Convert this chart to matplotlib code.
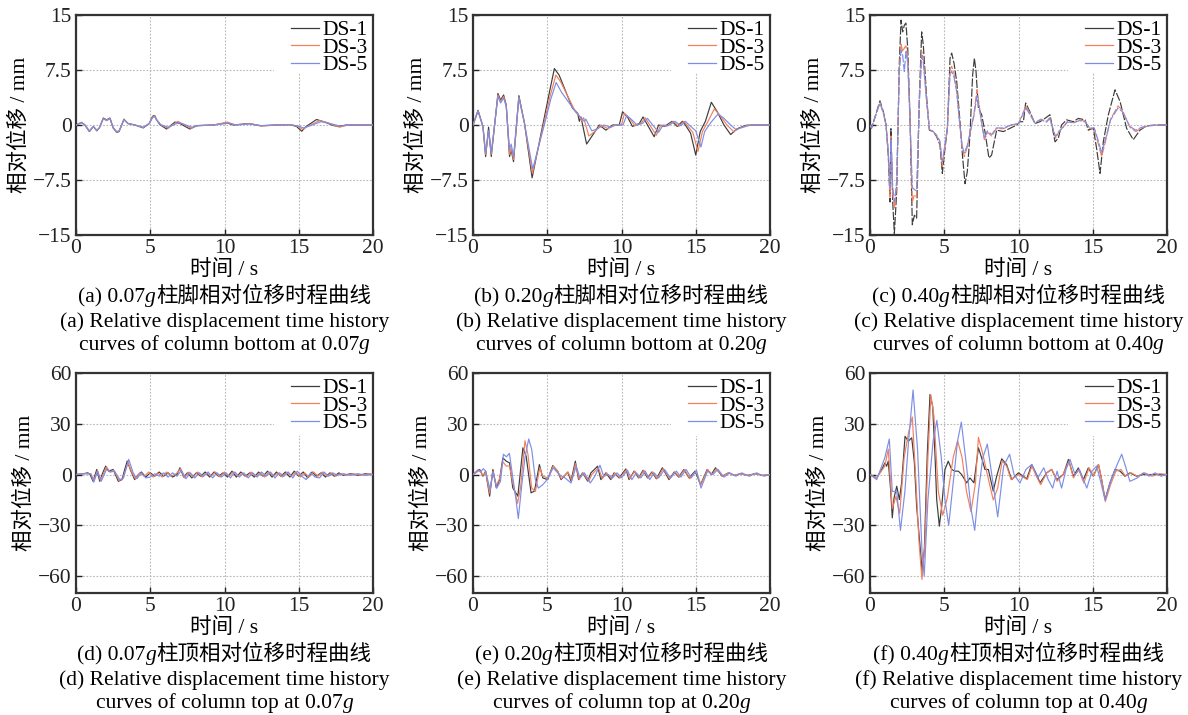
import matplotlib

matplotlib.use("Agg")
from matplotlib import pyplot as plt
from matplotlib.offsetbox import AnnotationBbox, HPacker, TextArea
from matplotlib.patches import Rectangle

FONTS = ["Liberation Serif", "Noto Sans CJK SC"]
plt.rcParams["font.family"] = FONTS
plt.rcParams["axes.unicode_minus"] = True

SERIES = ["DS-1", "DS-3", "DS-5"]
COLORS = ["#3c3c3c", "#f2805e", "#7d8ee6"]

# (t [s], displacement [mm])
A_DS1 = [(0, 0), (0.38, 0.36), (0.6, 0), (0.9, -0.9), (1.17, -0.2), (1.4, -0.8), (1.57, -0.4),
         (1.84, 0.95), (2.06, 0.7), (2.29, 0.95), (2.5, -0.4), (2.74, -1.0), (2.9, -0.9),
         (3.23, 0.8), (3.5, 0.2), (3.97, 0), (4.53, -0.4), (4.93, 0.2), (5.16, 1.2), (5.3, 1.3),
         (5.43, 0.7), (5.65, 0.05), (6.1, -0.55), (6.66, 0.4), (7.0, 0.2), (7.67, -0.55),
         (8.1, -0.1), (9.24, 0), (10.13, 0.3), (10.6, 0), (11.6, 0.2), (12.4, -0.1), (13.5, 0),
         (14.4, 0.05), (14.85, -0.2), (15.2, -0.85), (15.5, -0.2), (16.2, 0.75), (16.75, 0.4),
         (17.3, -0.05), (17.65, -0.2), (18.2, 0), (20, 0)]
A_DS3 = [(0, 0), (0.38, 0.35), (0.6, 0), (0.9, -0.85), (1.17, -0.2), (1.4, -0.75), (1.57, -0.4),
         (1.84, 0.9), (2.06, 0.65), (2.29, 0.9), (2.5, -0.4), (2.74, -0.95), (2.9, -0.85),
         (3.23, 0.75), (3.5, 0.2), (3.97, 0), (4.53, -0.35), (4.93, 0.2), (5.16, 1.1), (5.3, 1.25),
         (5.45, 0.7), (5.7, 0.05), (6.2, -0.45), (6.85, 0.5), (7.15, 0.2), (7.75, -0.45),
         (8.2, -0.1), (9.3, 0), (10.2, 0.4), (10.7, 0), (11.7, 0.2), (12.5, -0.15), (13.5, 0),
         (14.5, 0.05), (14.95, -0.2), (15.25, -0.6), (15.6, -0.2), (16.4, 0.6), (16.9, 0.35),
         (17.4, -0.05), (17.75, -0.3), (18.3, 0), (20, 0)]
A_DS5 = [(0, 0), (0.38, 0.3), (0.6, 0), (0.9, -0.8), (1.17, -0.2), (1.4, -0.7), (1.57, -0.4),
         (1.84, 0.85), (2.06, 0.6), (2.29, 0.85), (2.5, -0.35), (2.74, -0.9), (2.9, -0.8),
         (3.23, 0.7), (3.5, 0.2), (3.97, 0), (4.53, -0.3), (4.93, 0.2), (5.16, 1.0), (5.3, 1.15),
         (5.45, 0.6), (5.7, 0.05), (6.2, -0.3), (6.9, 0.3), (7.2, 0.15), (7.8, -0.3),
         (8.3, -0.05), (9.3, 0), (10.3, 0.25), (10.8, 0), (11.8, 0.15), (12.5, -0.1), (13.5, 0),
         (14.5, 0), (15.0, -0.15), (15.3, -0.4), (15.7, -0.15), (16.5, 0.45), (17.0, 0.25),
         (17.5, 0), (17.8, -0.15), (18.4, 0), (20, 0)]

B_DS1 = [(0, 0), (0.34, 2.0), (0.67, -0.2), (0.85, -4.3), (1.05, -0.3), (1.23, -4.3), (1.68, 4.3),
         (1.86, 3.4), (2.06, 4.1), (2.24, 2.7), (2.46, -4.3), (2.57, -3.4), (2.73, -5.0),
         (3.09, 4.0), (3.47, 0.2), (3.98, -7.2), (4.7, 0), (5.15, 4.5), (5.48, 7.7), (5.8, 6.8),
         (6.7, 2.3), (7.05, 1.6), (7.16, 0.5), (7.27, 1.1), (7.65, -2.6), (8.05, -1.4), (8.5, 0),
         (8.95, -0.7), (9.4, 0), (9.85, 0), (10.07, 1.8), (10.4, 1.1), (10.74, -0.2), (11.2, 0.2),
         (11.45, 1.1), (11.75, 0), (12.2, -1.6), (12.5, 0), (12.9, -0.2), (13.4, 0.5),
         (13.75, -0.2), (14.1, 0.5), (14.3, 0), (14.65, -1.1), (15.0, -4.1), (15.3, -0.9),
         (15.65, 0.5), (16.05, 3.1), (16.45, 1.8), (16.9, 0), (17.35, -1.3), (17.8, -0.5),
         (18.35, -0.05), (19.0, 0), (20, 0)]
B_DS3 = [(0, 0), (0.34, 1.9), (0.67, -0.2), (0.85, -4.0), (1.05, -0.8), (1.23, -4.0), (1.68, 4.1),
         (1.86, 3.2), (2.06, 3.9), (2.24, 2.6), (2.46, -4.0), (2.57, -3.2), (2.73, -4.7),
         (3.09, 3.8), (3.47, 0.2), (4.0, -6.6), (4.75, 0), (5.2, 4.0), (5.58, 6.8), (5.9, 5.9),
         (6.8, 2.2), (7.15, 1.3), (7.3, 0.6), (7.45, 1.0), (7.8, -1.5), (8.2, -0.9), (8.6, 0),
         (9.1, -0.5), (9.5, 0), (10.0, 0), (10.2, 1.6), (10.55, 0.9), (10.9, -0.1), (11.3, 0.2),
         (11.6, 1.0), (11.9, 0), (12.35, -1.4), (12.65, 0), (13.0, -0.2), (13.5, 0.5),
         (13.85, -0.2), (14.2, 0.5), (14.4, 0), (14.8, -1.0), (15.15, -3.6), (15.45, -0.9),
         (15.8, 0.4), (16.25, 2.2), (16.6, 1.4), (17.1, 0), (17.55, -0.9), (18.0, -0.4),
         (18.5, 0), (20, 0)]
B_DS5 = [(0, 0), (0.34, 1.9), (0.67, -0.2), (0.85, -3.8), (1.05, -0.8), (1.23, -3.8), (1.68, 3.9),
         (1.86, 3.0), (2.06, 3.7), (2.24, 2.5), (2.46, -3.4), (2.57, -2.6), (2.73, -4.3),
         (3.09, 3.7), (3.47, 0.2), (4.02, -6.0), (4.8, 0), (5.25, 3.6), (5.6, 5.8), (5.95, 4.5),
         (6.9, 1.8), (7.25, 1.0), (7.5, 0.5), (7.6, 0.8), (8.0, -0.8), (8.4, -0.5), (8.8, 0),
         (9.3, -0.3), (9.6, 0), (10.1, 0), (10.35, 1.3), (10.7, 0.7), (11.05, 0), (11.4, 0.2),
         (11.75, 0.9), (12.1, 0), (12.5, -1.0), (12.8, 0), (13.15, -0.1), (13.6, 0.5),
         (14.0, -0.1), (14.3, 0.5), (14.55, 0), (15.0, -0.8), (15.35, -3.0), (15.6, -0.9),
         (16.0, 0.3), (16.5, 1.5), (16.85, 1.0), (17.35, 0), (17.7, -0.6), (18.2, -0.3),
         (18.7, 0), (20, 0)]

C_DS1 = [(0, 0), (0.1, -0.45), (0.67, 3.3), (0.9, 1.8), (1.08, 0), (1.23, -4.1), (1.35, -10.5),
         (1.41, -0.5), (1.53, -10.5), (1.64, -14.8), (1.8, -9.0), (1.97, 8.2), (2.09, 14.3),
         (2.2, 12.7), (2.31, 13.6), (2.42, 13.9), (2.54, 10.5), (2.69, 1.4), (2.85, -13.6),
         (2.99, -12.3), (3.14, -12.7), (3.32, 3.6), (3.48, 12.7), (3.59, 10.9), (3.82, 3.6),
         (4.0, -0.7), (4.26, -0.9), (4.49, -1.6), (4.71, -2.7), (4.87, -6.6), (5.05, -3.2),
         (5.21, -0.45), (5.39, 9.1), (5.5, 9.8), (5.66, 8.4), (5.84, 5.9), (6.06, 0.45),
         (6.24, -4.5), (6.4, -8.0), (6.55, -6.4), (6.73, -1.4), (6.91, 6.8), (7.03, 9.1),
         (7.14, 7.3), (7.3, 2.3), (7.52, 1.4), (7.74, -0.9), (8.01, -4.5), (8.19, -4.1),
         (8.53, -0.7), (8.98, -0.9), (9.43, -0.45), (9.88, 0), (10.1, 0.45), (10.33, 0.45),
         (10.48, 3.0), (10.77, 1.8), (11.1, 0.2), (11.45, 0.45), (11.78, 0.9), (12.12, 1.4),
         (12.46, -2.3), (12.68, -1.8), (12.9, 0), (13.24, 0.7), (13.69, 0.45), (14.03, 0.9),
         (14.48, 0.7), (14.7, -0.7), (15.04, -0.45), (15.26, -3.2), (15.49, -6.6), (15.71, -2.3),
         (16.05, 1.4), (16.5, 4.8), (16.84, 3.2), (17.28, -0.45), (17.73, -2.0), (18.18, -0.7),
         (18.63, -0.1), (19.3, 0), (20, 0)]
C_DS3 = [(0, 0), (0.1, -0.4), (0.67, 3.1), (0.9, 1.7), (1.08, 0), (1.23, -3.8), (1.35, -9.8),
         (1.41, -1.5), (1.53, -9.5), (1.66, -11.3), (1.8, -8.0), (1.97, 7.5), (2.09, 11.0),
         (2.2, 10.0), (2.31, 10.5), (2.42, 10.8), (2.54, 9.0), (2.69, 1.2), (2.85, -10.5),
         (2.99, -9.5), (3.14, -9.8), (3.32, 3.2), (3.48, 10.0), (3.59, 9.0), (3.82, 3.2),
         (4.0, -0.6), (4.26, -0.9), (4.49, -1.5), (4.71, -2.4), (4.87, -5.6), (5.05, -2.8),
         (5.21, -0.4), (5.39, 7.6), (5.5, 8.0), (5.66, 7.0), (5.84, 4.8), (6.0, 1.0), (6.2, -3.0),
         (6.35, -4.3), (6.55, -3.0), (6.8, -0.5), (7.0, 1.5), (7.2, 4.8), (7.3, 3.5), (7.5, 0.5),
         (7.7, -2.0), (7.9, -1.0), (8.2, -1.5), (8.5, -0.5), (9.0, -0.5), (9.5, 0), (10.0, 0.2),
         (10.5, 2.6), (10.8, 1.5), (11.1, 0.3), (11.5, 0.8), (11.9, 0.5), (12.1, 1.0),
         (12.5, -1.8), (12.7, -1.0), (13.0, -0.3), (13.3, 0.5), (13.7, 0.3), (14.1, 0.7),
         (14.5, 0.5), (14.8, -0.5), (15.1, -0.5), (15.35, -2.4), (15.6, -4.3), (15.85, -2.3),
         (16.2, 0.8), (16.7, 2.6), (17.0, 2.0), (17.5, -0.3), (17.9, -0.9), (18.3, -0.4),
         (18.8, -0.1), (19.5, 0), (20, 0)]
C_DS5 = [(0, 0), (0.1, -0.4), (0.67, 3.0), (0.9, 1.6), (1.08, 0), (1.23, -3.5), (1.35, -8.5),
         (1.41, -2.0), (1.53, -8.5), (1.66, -10.5), (1.8, -7.5), (1.97, 7.0), (2.09, 10.2),
         (2.2, 9.5), (2.31, 7.3), (2.42, 10.0), (2.54, 8.5), (2.69, 1.0), (2.85, -8.5),
         (2.99, -8.8), (3.14, -9.0), (3.32, 3.0), (3.48, 9.5), (3.59, 8.5), (3.82, 3.0),
         (4.0, -0.6), (4.26, -0.9), (4.49, -1.4), (4.71, -2.2), (4.87, -5.0), (5.05, -2.6),
         (5.21, -0.4), (5.39, 7.0), (5.5, 7.3), (5.66, 6.5), (5.84, 4.5), (6.0, 1.0), (6.2, -2.8),
         (6.35, -3.8), (6.55, -2.8), (6.8, -0.5), (7.0, 1.3), (7.2, 4.0), (7.3, 3.0), (7.5, 0.5),
         (7.7, -1.8), (7.9, -0.8), (8.2, -1.3), (8.5, -0.4), (9.0, -0.4), (9.5, 0), (10.0, 0.2),
         (10.5, 2.3), (10.8, 1.3), (11.1, 0.3), (11.5, 0.7), (11.9, 0.4), (12.1, 0.9),
         (12.5, -1.6), (12.7, -0.9), (13.0, -0.3), (13.3, 0.4), (13.7, 0.3), (14.1, 0.6),
         (14.5, 0.4), (14.8, -0.4), (15.1, -0.4), (15.35, -2.0), (15.6, -3.8), (15.85, -2.0),
         (16.2, 0.7), (16.7, 2.3), (17.0, 1.8), (17.5, -0.2), (17.9, -0.7), (18.3, -0.3),
         (18.8, -0.1), (19.5, 0), (20, 0)]

D_DS1 = [(0, 0), (0.5, 0.5), (0.8, 1), (0.95, 0), (1.15, -4), (1.4, 3), (1.6, -4), (1.8, 1),
         (2.0, 5), (2.2, 2), (2.5, 3), (2.85, -4), (3.1, -3), (3.25, 2), (3.45, 8), (3.7, 2),
         (3.95, -3), (4.2, 0), (4.4, 1.5), (4.7, -1.5), (5.0, 1), (5.3, -1), (5.6, 1.5),
         (5.9, -1), (6.2, 1), (6.5, -1.5), (6.8, 0), (7.0, 4), (7.25, -1.5), (7.5, 1), (7.8, -2),
         (8.1, 1), (8.4, -1), (8.7, 1.5), (9.0, -1.5), (9.3, 1.5), (9.6, -1), (9.9, 1),
         (10.2, -1.5), (10.5, 2), (10.8, -1.5), (11.1, 1.5), (11.4, -1), (11.7, 1), (12.0, -1.5),
         (12.3, 1.5), (12.6, -1), (12.9, 2), (13.2, -1.5), (13.5, 1.5), (13.8, -1), (14.1, 1.5),
         (14.4, -1.5), (14.7, 2), (15.0, -1), (15.3, 1.5), (15.6, -2), (15.9, 1.5), (16.2, -1),
         (16.5, 1), (16.8, -1.5), (17.1, 1), (17.4, -1), (17.7, 1), (18.0, -0.5), (18.5, 0.5),
         (19.0, -0.5), (19.5, 0.5), (20, 0)]
D_DS3 = [(0, 0), (0.6, 0.5), (1.0, 0.5), (1.2, -3.5), (1.45, 2.5), (1.65, -3.5), (2.05, 4.5),
         (2.3, 1.5), (2.55, 2.5), (2.9, -3.5), (3.15, -2.5), (3.5, 7), (3.75, 1.5), (4.0, -2.5),
         (4.3, 1), (4.6, -1), (4.9, 1.5), (5.2, -1.5), (5.5, 1), (5.8, -1.5), (6.1, 1.5),
         (6.4, -1), (6.75, 0.5), (7.05, 3.5), (7.3, -2), (7.6, 1.5), (7.9, -1.5), (8.2, 1.5),
         (8.5, -1.5), (8.8, 1), (9.1, -1), (9.4, 1.5), (9.7, -1.5), (10.0, 1.5), (10.3, -1),
         (10.6, 1.5), (10.9, -1), (11.2, 1), (11.5, -1.5), (11.8, 1.5), (12.1, -1), (12.4, 1),
         (12.7, -1.5), (13.0, 1.5), (13.3, -1), (13.6, 1), (13.9, -1.5), (14.2, 1.5),
         (14.5, -1), (14.8, 1.5), (15.1, -1.5), (15.4, 1), (15.7, -1.5), (16.0, 1.5),
         (16.3, -1), (16.6, 1.5), (16.9, -1), (17.2, 1), (17.5, -1), (17.8, 0.5), (18.2, -0.5),
         (18.7, 0.5), (19.2, -0.5), (19.7, 0.5), (20, 0)]
D_DS5 = [(0, 0), (0.6, 0.5), (1.0, 0.3), (1.2, -4.5), (1.45, 2), (1.7, -4), (2.05, 3),
         (2.3, 1.5), (2.6, 2), (2.95, -3), (3.2, -2), (3.55, 9), (3.85, 1), (4.1, -2.5),
         (4.4, 1), (4.7, -2), (5.0, -1.5), (5.3, 0.5), (5.6, -1), (5.9, 1), (6.2, -1.5),
         (6.5, 1), (6.8, -1), (7.1, 2.5), (7.4, -2.5), (7.7, 1), (8.0, -2), (8.3, 1), (8.6, -1),
         (8.9, 1.5), (9.2, -2), (9.5, 1), (9.8, -1.5), (10.1, 1), (10.4, -2), (10.7, 1.5),
         (11.0, -1.5), (11.3, 1), (11.6, -2), (11.9, 1), (12.2, -1.5), (12.5, 1.5), (12.8, -1),
         (13.1, 1.5), (13.4, -2), (13.7, 1), (14.0, -1), (14.3, 1.5), (14.6, -2), (14.9, 2),
         (15.2, -1), (15.5, -3), (15.8, 1), (16.1, -1.5), (16.4, -2), (16.7, 1.5), (17.0, -1),
         (17.3, 1), (17.6, -0.5), (18.0, 0.5), (18.5, -0.5), (19.0, 0.5), (19.5, -0.5), (20, 0)]

E_DS1 = [(0, 0), (0.45, 3), (0.67, -1), (0.85, 2), (1.12, -12.8), (1.34, 3), (1.57, -7.9),
         (1.79, -3), (2.01, 9.8), (2.24, 7.9), (2.46, 6.9), (2.68, -7.9), (3.02, -12.8),
         (3.36, 15.8), (3.58, 10.8), (3.91, -10.8), (4.14, -9.8), (4.47, 5.9), (4.7, -2),
         (5.03, -3), (5.37, 5.3), (5.7, 2), (5.93, -3), (6.38, 1.4), (6.6, -3.9), (6.89, 7.9),
         (7.11, -3), (7.38, 1), (7.72, -3.9), (7.94, 1), (8.39, 4.9), (8.61, -3), (8.95, 1),
         (9.28, -3), (9.5, 1), (9.84, -2), (10.29, 3.3), (10.51, -3), (10.85, 2), (11.15, -2),
         (11.45, 2.5), (11.75, -2), (12.05, 1.5), (12.35, -2.5), (12.75, 4), (13.2, -3),
         (13.55, 1.5), (13.85, -1.5), (14.2, 3), (14.55, -2), (14.95, 2), (15.33, -5.9),
         (15.77, 3), (16.05, 0), (16.33, 4), (16.78, -1), (17.2, 1), (17.6, -0.5), (18.0, 0.5),
         (18.5, -0.5), (19.0, 0.5), (19.5, -0.5), (20, 0)]
E_DS3 = [(0, 0), (0.45, 2.5), (0.67, -0.5), (0.85, 1.5), (1.12, -11), (1.34, 2), (1.57, -6.5),
         (1.79, -2.5), (2.01, 7.5), (2.24, 5), (2.46, 5), (2.68, -5), (3.0, -17), (3.2, -8),
         (3.5, 20), (3.7, 12), (3.95, -8), (4.2, -10), (4.5, 4), (4.7, -1), (5.05, -2), (5.4, 5),
         (5.7, 2), (5.95, -2.5), (6.4, 1.5), (6.65, -3.5), (6.9, 6.5), (7.15, -3), (7.4, 1),
         (7.8, -4), (8.0, 0), (8.45, 4), (8.7, -2.5), (9.0, 1), (9.35, -2.5), (9.55, 1),
         (9.9, -2), (10.35, 3), (10.55, -2.5), (10.9, 2), (11.2, -2), (11.5, 2.5), (11.8, -2),
         (12.1, 1.5), (12.4, -2.5), (12.8, 3.5), (13.25, -2.5), (13.6, 1.5), (13.9, -1.5),
         (14.25, 3), (14.6, -2.5), (15.0, 2), (15.35, -6), (15.8, 3), (16.1, 0), (16.4, 3.5),
         (16.8, -1), (17.2, 1), (17.6, -0.5), (18.0, 0.5), (18.5, -0.5), (19.0, 0.5),
         (19.5, -0.5), (20, 0)]
E_DS5 = [(0, 0), (0.35, 3), (0.5, 1.5), (0.7, 3.5), (0.85, 2), (1.15, -9), (1.35, 1.5),
         (1.6, -8), (1.85, -4), (2.05, 12), (2.25, 10.5), (2.45, 12.5), (2.7, -3), (2.9, -15),
         (3.05, -26), (3.3, -5), (3.5, 10), (3.75, 21), (3.95, 15), (4.2, -3), (4.4, -8),
         (4.7, -6), (5.0, -3), (5.4, 4), (5.8, 0), (6.2, -2), (6.6, -5), (6.95, 5), (7.2, -2),
         (7.5, 1), (7.9, -5), (8.2, -1), (8.55, 5.5), (8.8, -1), (9.1, 0), (9.4, -2), (9.7, 1),
         (10.0, -2), (10.4, 2.5), (10.7, -3), (11.0, 1), (11.3, -2), (11.6, 2), (11.9, -3),
         (12.2, 1), (12.5, -2), (12.9, 3), (13.3, -2), (13.7, 2), (14.0, -1.5), (14.35, 3),
         (14.7, -2), (15.05, 2.5), (15.35, -8), (15.8, 2), (16.15, 0), (16.5, 3), (16.9, -1.5),
         (17.3, 1), (17.7, -1), (18.1, 1), (18.6, -1), (19.1, 1), (19.6, -1), (20, 0)]

F_DS1 = [(0, 0), (0.45, -2), (0.79, 3), (1.01, 6.9), (1.12, 4.9), (1.23, 7.9), (1.39, -8.9),
         (1.5, -25.6), (1.62, -13.8), (1.8, -6.9), (1.98, -14.8), (2.13, -4.9), (2.36, 22.6),
         (2.58, 19.7), (2.81, 21.7), (2.99, 6.9), (3.14, -18.7), (3.37, -42.3), (3.52, -58),
         (3.66, -44), (3.86, 12.8), (4.04, 47.3), (4.22, 40.4), (4.38, 10.8), (4.49, -14.8),
         (4.67, -30.5), (4.83, -18.7), (5.05, 3), (5.27, 7.9), (5.5, 3), (5.72, 2), (5.95, 2),
         (6.17, 0), (6.51, -4.9), (6.73, -2), (7.0, -4.9), (7.3, 15.8), (7.52, 9.8), (7.74, 3),
         (7.97, 3), (8.3, -9.8), (8.53, -1), (8.87, 9.3), (9.2, 5.9), (9.54, -3), (9.99, 1),
         (10.33, -1), (10.55, -2.6), (10.89, 5.9), (11.22, 0), (11.45, -4.9), (11.9, 1),
         (12.23, 3), (12.57, -3), (13.02, 0), (13.36, 8.9), (13.69, -1), (14.03, 3.9),
         (14.37, -3), (14.7, 3.9), (15.04, -1), (15.38, 5.9), (15.6, -3), (15.83, -14.8),
         (16.16, -4.9), (16.5, 3), (16.84, 2), (17.17, -1), (17.5, 1), (17.96, -1), (18.4, 0),
         (19.08, 0), (20, 0)]
F_DS3 = [(0, 0), (0.45, -2), (1.0, 5), (1.23, 15), (1.5, -20), (1.75, -13), (2.0, -23),
         (2.3, 10), (2.6, 25), (2.85, 34), (3.1, -5), (3.3, -40), (3.5, -62), (3.7, -40),
         (3.9, 10), (4.1, 47), (4.3, 35), (4.6, -10), (4.9, -24), (5.2, -14), (5.6, 10),
         (5.9, 20), (6.2, 10), (6.5, -10), (6.8, -22), (7.1, -5), (7.3, 22), (7.6, 12),
         (7.9, 0), (8.3, -15), (8.6, -8), (8.9, 8), (9.2, 5), (9.5, -3), (10.0, 0), (10.4, -2),
         (10.6, -3), (10.9, 5), (11.2, -1), (11.5, -6), (11.9, 1), (12.25, 3), (12.6, -4),
         (13.0, 0), (13.4, 8), (13.7, -2), (14.05, 3), (14.4, -5), (14.75, 4), (15.05, -1),
         (15.4, 6), (15.6, -3), (15.85, -16), (16.2, -6), (16.55, 2), (16.9, 3), (17.2, -1),
         (17.6, 1), (18.0, -1), (18.5, 1), (19.0, -1), (19.5, 0.5), (20, 0)]
F_DS5 = [(0, 0), (0.45, -3), (1.0, 10), (1.3, 21), (1.5, -10), (1.8, -10), (2.05, -33),
         (2.35, -10), (2.6, 20), (2.9, 50), (3.2, 15), (3.5, -45), (3.65, -60), (3.9, -15),
         (4.25, 20), (4.5, 32), (4.8, 10), (5.05, -15), (5.3, -30), (5.6, -5), (5.9, 20),
         (6.15, 31), (6.5, 5), (6.8, -20), (7.05, -33), (7.3, -10), (7.6, 10), (7.9, 18),
         (8.2, 0), (8.6, -25), (9.0, 5), (9.4, 12), (9.7, 0), (10.1, -5), (10.5, 3), (10.9, 6),
         (11.3, -2), (11.7, 4), (12.0, -3), (12.3, -8), (12.6, 2), (12.9, -8), (13.2, 3),
         (13.47, 9), (13.8, 0), (14.1, 3), (14.6, -8), (14.95, 2), (15.26, 5), (15.5, -3),
         (15.83, -15), (16.2, -4), (16.6, 5), (16.95, 12), (17.2, 5), (17.5, -4), (18.0, -2),
         (18.4, 1), (18.8, -1), (19.2, 1), (19.6, -1), (20, 0)]

# text between * is set in italics
PANELS = [
    ("(a) 0.07*g*柱脚相对位移时程曲线", "(a) Relative displacement time history",
     "curves of column bottom at 0.07*g*", [A_DS1, A_DS3, A_DS5]),
    ("(b) 0.20*g*柱脚相对位移时程曲线", "(b) Relative displacement time history",
     "curves of column bottom at 0.20*g*", [B_DS1, B_DS3, B_DS5]),
    ("(c) 0.40*g*柱脚相对位移时程曲线", "(c) Relative displacement time history",
     "curves of column bottom at 0.40*g*", [C_DS1, C_DS3, C_DS5]),
    ("(d) 0.07*g*柱顶相对位移时程曲线", "(d) Relative displacement time history",
     "curves of column top at 0.07*g*", [D_DS1, D_DS3, D_DS5]),
    ("(e) 0.20*g*柱顶相对位移时程曲线", "(e) Relative displacement time history",
     "curves of column top at 0.20*g*", [E_DS1, E_DS3, E_DS5]),
    ("(f) 0.40*g*柱顶相对位移时程曲线", "(f) Relative displacement time history",
     "curves of column top at 0.40*g*", [F_DS1, F_DS3, F_DS5]),
]

BOTTOM_YTICKS = [-15, -7.5, 0, 7.5, 15]
BOTTOM_YLABELS = ["\u221215", "\u22127.5", "0", "7.5", "15"]
TOP_YTICKS = [-60, -30, 0, 30, 60]
TOP_YLABELS = ["\u221260", "\u221230", "0", "30", "60"]
XTICKS = [0, 5, 10, 15, 20]

W, H = 1188, 715
FS = 15.5
LEFTS = [76, 473, 870]
AX_W = 297
AX_H = 220
ROW_TOPS = [15, 373]


def rich_text(fig, x, y, text):
    parts = text.split("*")
    boxes = []
    for i, part in enumerate(parts):
        if not part:
            continue
        style = "italic" if i % 2 else "normal"
        boxes.append(TextArea(part, textprops=dict(fontsize=FS, family=FONTS, style=style)))
    pack = HPacker(children=boxes, align="baseline", pad=0, sep=0)
    ab = AnnotationBbox(pack, (x, y), xycoords="figure fraction", frameon=False,
                        box_alignment=(0.5, 0.5), pad=0)
    fig.add_artist(ab)


def draw_panel(fig, idx):
    row, col = divmod(idx, 3)
    left = LEFTS[col]
    top = ROW_TOPS[row]
    ax = fig.add_axes([left / W, 1 - (top + AX_H) / H, AX_W / W, AX_H / H])
    cap_zh, cap_en1, cap_en2, data = PANELS[idx]

    dashed = idx == 2
    for pts, name, color in zip(data, SERIES, COLORS):
        t = [p[0] for p in pts]
        y = [p[1] for p in pts]
        ax.plot(t, y, color=color, linewidth=0.85, label=name,
                linestyle=(0, (7, 1.5)) if dashed else "-", zorder=3)

    ax.set_xlim(0, 20)
    ax.set_xticks(XTICKS)
    if row == 0:
        ax.set_ylim(-15, 15)
        ax.set_yticks(BOTTOM_YTICKS)
        ax.set_yticklabels(BOTTOM_YLABELS)
        mask_bottom = 0.735
    else:
        ax.set_ylim(-70, 60)
        ax.set_yticks(TOP_YTICKS)
        ax.set_yticklabels(TOP_YLABELS)
        mask_bottom = 0.715

    ax.grid(True, color="#b8b8b8", linestyle=(0, (1.5, 1.5)), linewidth=0.8)
    ax.set_axisbelow(True)
    ax.add_patch(Rectangle((0.665, mask_bottom), 0.335, 1 - mask_bottom,
                           transform=ax.transAxes, facecolor="white",
                           edgecolor="none", zorder=1.5))
    ax.tick_params(direction="in", length=4, width=1, labelsize=FS, pad=3,
                   colors="#222222")
    for spine in ax.spines.values():
        spine.set_linewidth(1.6)
        spine.set_color("#333333")

    leg = ax.legend(loc="upper right", frameon=False, fontsize=FS,
                    handlelength=1.3, handletextpad=0.15, labelspacing=-0.12,
                    borderaxespad=0.0, borderpad=0.25)
    for line in leg.get_lines():
        line.set_linestyle("-")
        line.set_linewidth(0.9)

    cx = (left + AX_W / 2) / W
    ylab_x = (left - (56 if row == 0 else 51)) / W
    fig.text(ylab_x, 1 - (top + AX_H / 2) / H, "相对位移 / mm", rotation=90,
             ha="center", va="center", fontsize=FS)
    base = top + AX_H
    fig.text(cx, 1 - (base + 35) / H, "时间 / s", ha="center", va="center", fontsize=FS)
    for off, txt in zip([62, 87, 110], [cap_zh, cap_en1, cap_en2]):
        rich_text(fig, cx, 1 - (base + off) / H, txt)
    return ax


def main():
    fig = plt.figure(figsize=(W / 100, H / 100), dpi=100)
    for i in range(6):
        draw_panel(fig, i)
    fig.savefig("out.png", dpi=100, facecolor="white")
    plt.close(fig)


if __name__ == "__main__":
    main()
